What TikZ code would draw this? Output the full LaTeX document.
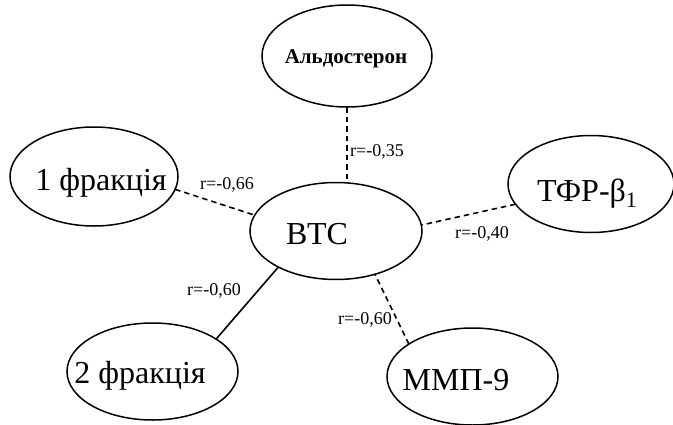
\documentclass[tikz,border=0pt]{standalone}
\usepackage{fontspec}
\setmainfont{Liberation Serif}
\usetikzlibrary{shapes.geometric}
\begin{document}
\begin{tikzpicture}[x=1pt,y=-1pt,
  oval/.style={draw,ellipse,line width=1.5pt,inner sep=0pt,outer sep=0pt},
  big/.style={anchor=base,inner sep=0pt,font=\fontsize{32}{36}\selectfont},
  rlab/.style={anchor=base west,inner sep=0pt,font=\fontsize{18}{20}\selectfont},
  link/.style={line width=1.6pt},
  dlink/.style={line width=1.6pt,dash pattern=on 5.5pt off 4pt}]
\useasboundingbox (0,0) rectangle (673,424);
\node[oval,minimum width=170pt,minimum height=102pt] (ald) at (347,56) {};
\node[oval,minimum width=172pt,minimum height=97pt] (btc) at (336,231) {};
\node[oval,minimum width=168pt,minimum height=99pt] (f1) at (94,176.5) {};
\node[oval,minimum width=166pt,minimum height=97pt] (tfr) at (591,184) {};
\node[oval,minimum width=171pt,minimum height=97pt] (f2) at (152.5,371.5) {};
\node[oval,minimum width=171pt,minimum height=97pt] (mmp) at (472.5,376.5) {};
\node[anchor=base,inner sep=0pt,font=\bfseries\fontsize{21}{24}\selectfont] (tald) at (346,63) {Альдостерон};
\node[big] (tbtc) at (317,244) {ВТС};
\node[big] (tf1) at (101,190) {1 фракція};
\node[big] (ttfr) at (587,201) {ТФР-β\raisebox{-6pt}{\fontsize{22}{24}\selectfont 1}};
\node[big] (tf2) at (140,383) {2 фракція};
\node[big] (tmmp) at (456,390) {ММП-9};
\draw[dlink] (ald.south) -- (ald.south |- btc.north);
\draw[dlink] (f1.-9.5) -- (btc.169);
\draw[dlink] (tfr.195) -- (btc.4);
\draw[link] (f2.27) -- (btc.212);
\draw[dlink] (mmp.153) -- (btc.-48);
\node[rlab] (r1) at (350,156) {r=-0,35};
\node[rlab] (r2) at (200,189) {r=-0,66};
\node[rlab] (r3) at (455,238) {r=-0,40};
\node[rlab] (r4) at (187,295) {r=-0,60};
\node[rlab] (r5) at (338,324) {r=-0,60};
\end{tikzpicture}
\end{document}
